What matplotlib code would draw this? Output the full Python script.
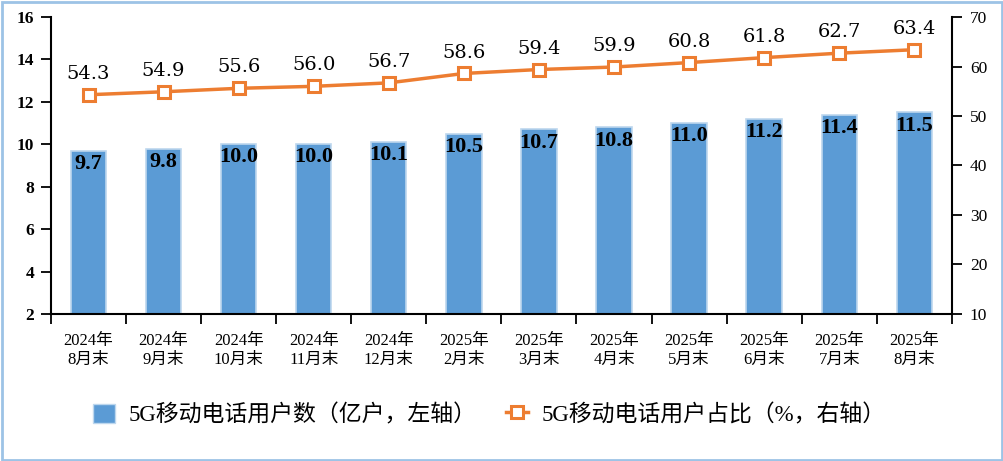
import matplotlib
matplotlib.use("Agg")
import matplotlib.pyplot as plt
from matplotlib.patches import Rectangle, Patch
from matplotlib.lines import Line2D

categories = ["2024年\n8月末", "2024年\n9月末", "2024年\n10月末", "2024年\n11月末", "2024年\n12月末",
              "2025年\n2月末", "2025年\n3月末", "2025年\n4月末", "2025年\n5月末", "2025年\n6月末",
              "2025年\n7月末", "2025年\n8月末"]
users = [9.7, 9.8, 10.0, 10.0, 10.1, 10.5, 10.7, 10.8, 11.0, 11.2, 11.4, 11.5]
share = [54.3, 54.9, 55.6, 56.0, 56.7, 58.6, 59.4, 59.9, 60.8, 61.8, 62.7, 63.4]
left_ticks = [2, 4, 6, 8, 10, 12, 14, 16]
right_ticks = [10, 20, 30, 40, 50, 60, 70]
bar_name = "5G移动电话用户数（亿户，左轴）"
line_name = "5G移动电话用户占比（%，右轴）"

SERIF = "Liberation Serif"
MIX = [SERIF, "Noto Sans CJK SC", "DejaVu Sans"]
BLUE = "#5B9BD5"
ORANGE = "#ED7D31"

fig = plt.figure(figsize=(10.04, 4.61), dpi=100)
ax = fig.add_axes([0.0508, 0.319, 0.8972, 0.644])
ax2 = ax.twinx()

x = list(range(len(categories)))
bars = ax.bar(x, [u - 2 for u in users], width=0.47, bottom=2, color=BLUE,
              edgecolor="#BDD7EE", linewidth=1.2, zorder=2)
for xi, u in zip(x, users):
    ax.annotate(f"{u:.1f}", (xi, u), xytext=(0, -9.5), textcoords="offset points",
                ha="center", va="center", fontsize=16, fontweight="bold",
                family=SERIF, color="black", zorder=5)

ax2.plot(x, share, color=ORANGE, linewidth=2.5, marker="s", markersize=8,
         markerfacecolor="white", markeredgecolor=ORANGE, markeredgewidth=2.2, zorder=4)
for xi, s in zip(x, share):
    ax2.annotate(f"{s:.1f}", (xi, s), xytext=(0, 15), textcoords="offset points",
                 ha="center", va="center", fontsize=14, family="DejaVu Serif", color="black")

ax.set_xlim(-0.5, len(categories) - 0.5)
ax.set_ylim(2, 16)
ax2.set_ylim(10, 70)
ax.set_yticks(left_ticks)
ax2.set_yticks(right_ticks)
ax.set_yticklabels([str(t) for t in left_ticks], fontsize=12.5, family=SERIF, fontweight="bold")
ax2.set_yticklabels([str(t) for t in right_ticks], fontsize=12.5, family=SERIF)

ax.set_xticks(x)
ax.set_xticklabels(categories, family=MIX, fontsize=12, linespacing=1.2)
ax.set_xticks([i - 0.5 for i in range(len(categories) + 1)], minor=True)
ax.tick_params(axis="x", which="major", length=0, pad=14)
ax.tick_params(axis="x", which="minor", length=7, width=1.3, direction="out")
ax.tick_params(axis="y", length=7, width=1.3, direction="out", pad=5)
ax2.tick_params(axis="y", length=7, width=1.3, direction="out", pad=6)

for a in (ax, ax2):
    a.spines["top"].set_visible(False)
    for s in ("left", "right", "bottom"):
        a.spines[s].set_linewidth(1.5)
        a.spines[s].set_color("black")
ax2.spines["left"].set_visible(False)
ax2.spines["bottom"].set_visible(False)
ax.spines["right"].set_visible(False)

h1 = Patch(facecolor=BLUE, edgecolor="#BDD7EE", linewidth=1.0)
h2 = Line2D([], [], color=ORANGE, linewidth=2.5, marker="s", markersize=8,
            markerfacecolor="white", markeredgecolor=ORANGE, markeredgewidth=2.2)
leg = fig.legend([h1, h2], [bar_name, line_name], loc="center left",
                 bbox_to_anchor=(0.072, 0.1), ncol=2, frameon=False,
                 prop={"family": MIX, "size": 16.5}, handlelength=0.95, handleheight=0.95,
                 handletextpad=0.6, columnspacing=1.3)

fig.patches.append(Rectangle((0.002, 0.003), 0.996, 0.993, transform=fig.transFigure,
                             fill=False, edgecolor="#9DC3E6", linewidth=2))

fig.savefig("out.png", dpi=100)
